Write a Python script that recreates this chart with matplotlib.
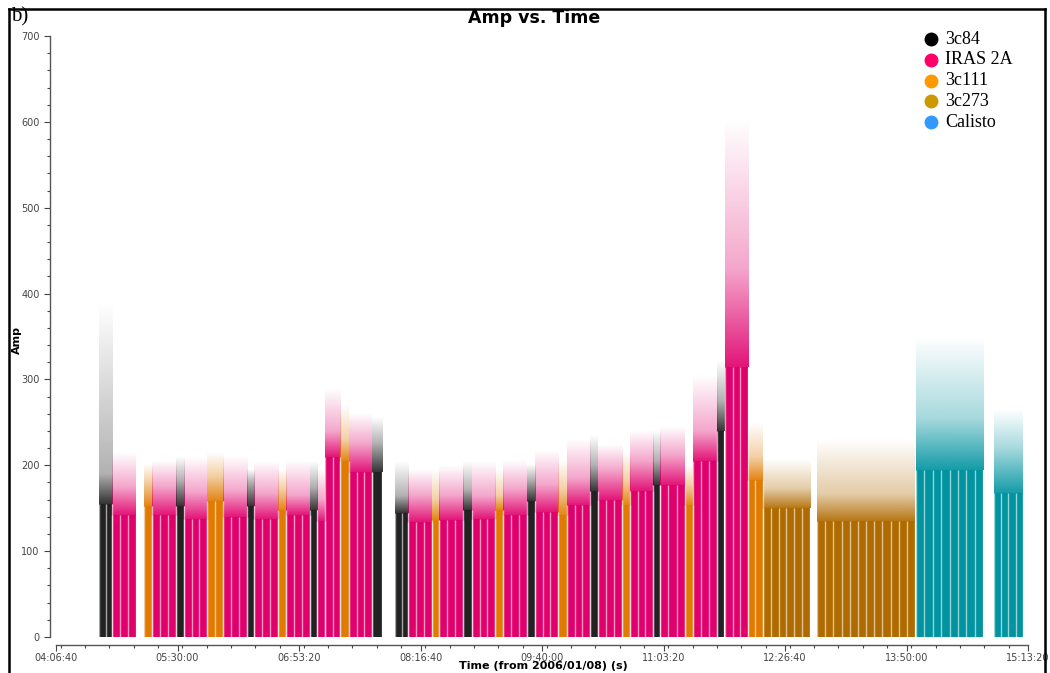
import matplotlib
matplotlib.use('Agg')
import matplotlib.pyplot as plt
import numpy as np
from matplotlib.ticker import FixedLocator, FuncFormatter, MultipleLocator
from matplotlib.lines import Line2D
from matplotlib.colors import to_rgb

# ---------------- data ----------------
sources = ['3c84', 'IRAS 2A', '3c111', '3c273', 'Calisto']
legend_colors = ['#000000', '#ff0066', '#ff9900', '#cc9900', '#3399ff']
plot_colors = ['#222222', '#e0006c', '#e07a00', '#b06b00', '#0093a0']

# contiguous blocks of scans on one source (time in s from 2006/01/08 00:00)
block_start = [16570, 17105, 18420, 18750, 19740, 20070, 21010, 21670, 22660, 22950,
               23940, 24270, 25250, 25540, 25870, 26490, 26860, 27800, 28750, 29290,
               30270, 30560, 31550, 31920, 32870, 33200, 34180, 34510, 35460, 35830,
               36780, 37100, 38090, 38420, 39370, 39660, 40680, 41010, 42000, 42330,
               43280, 43890, 46120, 50190, 53400]
block_end = [17105, 18090, 18750, 19740, 20070, 21010, 21670, 22660, 22950, 23940,
             24270, 25250, 25540, 25870, 26490, 26860, 27800, 28220, 29290, 30270,
             30560, 31550, 31920, 32870, 33200, 34180, 34510, 35460, 35830, 36780,
             37100, 38090, 38420, 39370, 39660, 40680, 41010, 42000, 42300, 43280,
             43890, 45830, 50150, 52950, 54590]
block_source = [0, 1, 2, 1, 0, 1, 2, 1, 0, 1,
                2, 1, 0, 1, 1, 2, 1, 0, 0, 1,
                2, 1, 0, 1, 2, 1, 0, 1, 2, 1,
                0, 1, 2, 1, 0, 1, 2, 1, 0, 1,
                2, 3, 3, 4, 4]
block_nscans = [2, 3, 1, 3, 1, 3, 2, 3, 1, 3,
                1, 3, 1, 1, 2, 1, 3, 1, 2, 3,
                1, 3, 1, 3, 1, 3, 1, 3, 1, 3,
                1, 3, 1, 3, 1, 3, 1, 3, 1, 3,
                2, 6, 12, 8, 4]
# amplitude where the dense cloud of points ends, where the speckle fades, and the highest point
amp_solid = [155, 142, 152, 142, 152, 138, 158, 140, 152, 138,
             148, 142, 148, 135, 210, 205, 192, 192, 145, 134,
             136, 136, 148, 138, 148, 142, 158, 146, 142, 154,
             170, 160, 154, 170, 177, 177, 154, 205, 240, 315,
             183, 150, 135, 195, 168]
amp_fuzzy = [190, 175, 180, 175, 182, 170, 188, 170, 180, 168,
             172, 165, 175, 160, 240, 230, 225, 225, 165, 165,
             160, 165, 172, 165, 165, 172, 182, 178, 172, 185,
             200, 195, 182, 205, 205, 212, 178, 240, 275, 430,
             210, 172, 166, 255, 220]
amp_peak = [390, 215, 200, 205, 210, 210, 215, 210, 195, 205,
            195, 205, 205, 195, 290, 270, 260, 255, 205, 195,
            195, 200, 205, 205, 195, 205, 200, 218, 205, 230,
            235, 225, 215, 240, 240, 245, 200, 305, 322, 605,
            250, 206, 230, 350, 265]

x_ticks = [14800, 19800, 24800, 29800, 34800, 39800, 44800, 49800, 54800]

# ---------------- figure ----------------
W, H = 1050, 673
fig = plt.figure(figsize=(W / 100, H / 100), dpi=100)
ax = fig.add_axes([56 / W, 1 - 637 / H, (1028 - 56) / W, (637 - 36) / H])

NPIX = 200
for s, e, src, ns, a1, a2, a3 in zip(block_start, block_end, block_source,
                                      block_nscans, amp_solid, amp_fuzzy, amp_peak):
    c = plot_colors[src]
    w = e - s
    ax.bar(s, a1, width=w, bottom=0, align='edge', color=c, linewidth=0)
    # fading cloud of points above the dense part
    yv = np.linspace(a1, a3, NPIX)
    alpha = np.interp(yv, [a1, a2, a3], [0.92, 0.35, 0.0])
    img = np.zeros((NPIX, 1, 4))
    img[:, 0, :3] = to_rgb(c)
    img[:, 0, 3] = alpha
    ax.imshow(img, extent=[s, e, a1, a3], origin='lower', aspect='auto',
              interpolation='bilinear', zorder=2)
    edges = np.linspace(s, e, ns + 1)
    ax.vlines(edges, 0, a1, colors='white', linewidth=1.0, alpha=0.6, zorder=3)

ax.set_xlim(x_ticks[0], x_ticks[-1])
ax.set_ylim(0, 700)
ax.set_aspect('auto')

for sp in ['top', 'right']:
    ax.spines[sp].set_visible(False)
ax.spines['left'].set_position(('outward', 4.3))
ax.spines['bottom'].set_position(('outward', 5.8))
for sp in ['left', 'bottom']:
    ax.spines[sp].set_color('#555555')
    ax.spines[sp].set_linewidth(1.0)

ax.xaxis.set_major_locator(FixedLocator(x_ticks))
ax.xaxis.set_minor_locator(MultipleLocator(1000))


def hms(t, pos=None):
    t = int(round(t))
    return f'{t // 3600:02d}:{(t % 3600) // 60:02d}:{t % 60:02d}'


ax.xaxis.set_major_formatter(FuncFormatter(hms))
ax.yaxis.set_major_locator(MultipleLocator(100))
ax.yaxis.set_minor_locator(MultipleLocator(20))
ax.tick_params(axis='both', which='major', labelsize=7, colors='#444444',
               length=4, width=0.8)
ax.tick_params(axis='x', which='major', pad=1.5)
ax.tick_params(axis='both', which='minor', colors='#444444', length=2.5, width=0.8)

ax.set_xlabel('Time (from 2006/01/08) (s)', fontsize=8, fontweight='bold')
ax.set_ylabel('Amp', fontsize=8, fontweight='bold')
ax.xaxis.set_label_coords((543 - 56) / 972, (637 - 661) / 601)
ax.yaxis.set_label_coords((22 - 56) / 972, (637 - 340) / 601)

fig.text(534 / W, 1 - 18 / H, 'Amp vs. Time', fontsize=12.5, fontweight='bold',
         ha='center', va='center')
fig.text(11 / W, 1 - 17 / H, 'b)', fontsize=15, family='Liberation Serif',
         ha='left', va='center')

# legend
for i, (name, col) in enumerate(zip(sources, legend_colors)):
    yy = 1 - (39 + 20.8 * i) / H
    fig.add_artist(Line2D([931 / W], [yy], marker='o', markersize=9,
                          color=col, linestyle='none', transform=fig.transFigure))
    fig.text(945 / W, yy, name, fontsize=13, family='Liberation Serif',
             ha='left', va='center')

# outer frame
for xs, ys in [([9 / W, 9 / W], [0, 1 - 9 / H]),
               ([9 / W, 1045 / W], [1 - 9 / H, 1 - 9 / H]),
               ([1045 / W, 1045 / W], [1 - 9 / H, 0])]:
    fig.add_artist(Line2D(xs, ys, color='black', linewidth=1.8,
                          transform=fig.transFigure))

fig.savefig('out.png', dpi=100)
